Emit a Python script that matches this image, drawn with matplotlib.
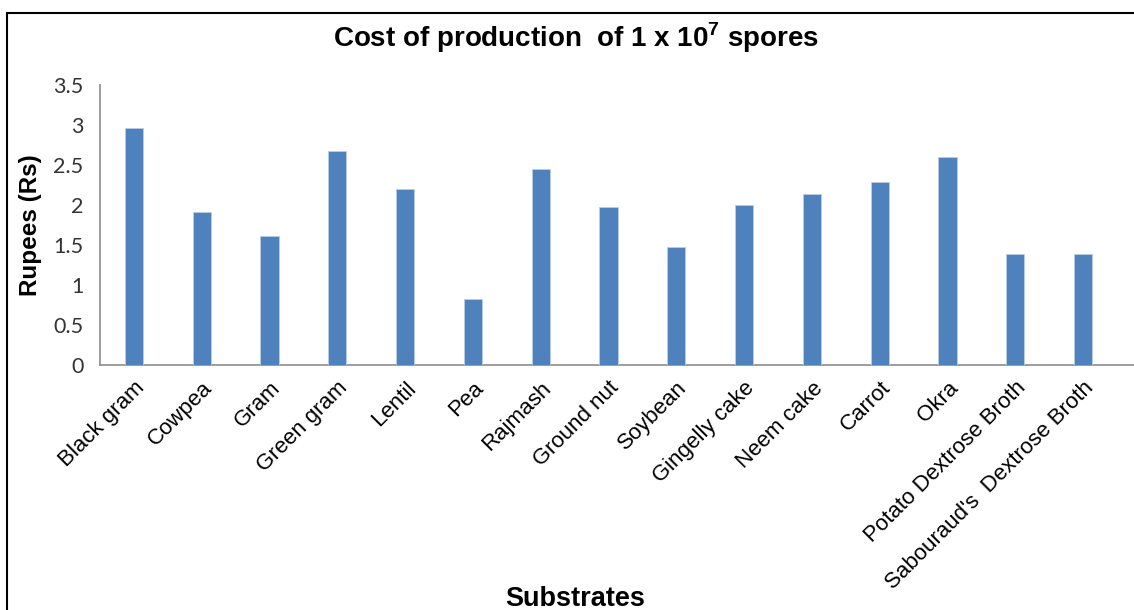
import matplotlib
matplotlib.use('Agg')
from matplotlib import pyplot as plt
from matplotlib.patches import Rectangle

plt.rcParams['mathtext.fontset'] = 'custom'
plt.rcParams['mathtext.bf'] = 'Liberation Sans:bold'
plt.rcParams['mathtext.rm'] = 'Liberation Sans'

substrates = ['Black gram', 'Cowpea', 'Gram', 'Green gram', 'Lentil', 'Pea', 'Rajmash',
              'Ground nut', 'Soybean', 'Gingelly cake', 'Neem cake', 'Carrot', 'Okra',
              'Potato Dextrose Broth', "Sabouraud's  Dextrose Broth"]
cost = [2.96, 1.91, 1.61, 2.67, 2.20, 0.82, 2.45,
        1.97, 1.48, 2.00, 2.14, 2.29, 2.60, 1.39, 1.39]
yticks = [0, 0.5, 1, 1.5, 2, 2.5, 3, 3.5]

fig = plt.figure(figsize=(11.34, 6.10), dpi=100)
ax = fig.add_axes([100/1134, 245/610, 1034/1134, 280/610])

x = list(range(len(substrates)))
ax.bar(x, cost, width=0.27, color='#4f81bd', edgecolor='#b9cde5', linewidth=0.6, zorder=3)

ax.set_xlim(-0.5, 14.75)
ax.set_ylim(0, 3.5)
ax.set_yticks(yticks)
ax.set_yticklabels([('%g' % v) for v in yticks], fontsize=15.5, family='Lato', color='#333333')
ax.set_xticks(x)
ax.set_xticklabels(substrates, rotation=45, ha='right', va='top', rotation_mode='anchor',
                   fontsize=16, family='Liberation Sans')
ax.tick_params(axis='both', length=0)
ax.tick_params(axis='y', pad=12)
ax.tick_params(axis='x', pad=9)

for s in ['top', 'right']:
    ax.spines[s].set_visible(False)
for s in ['left', 'bottom']:
    ax.spines[s].set_color('#8c8c8c')
    ax.spines[s].set_linewidth(1.2)

ax.set_ylabel('Rupees (Rs)', fontsize=17.5, fontweight='bold', family='Liberation Sans', labelpad=8)

fig.text(576/1134, 1 - 38/610, r'Cost of production  of 1 x 10$^{\mathbf{7}}$ spores', ha='center', va='center',
         fontsize=20, fontweight='bold', family='Liberation Sans')
fig.text(575/1134, 1 - 606/610, 'Substrates', ha='center', va='baseline',
         fontsize=19.5, fontweight='bold', family='Liberation Sans')

# outer frame (cropped at the right and bottom)
fig.patches.append(Rectangle((7/1134, -0.1), 1.2, 1 - 13/610 + 0.1, transform=fig.transFigure,
                             fill=False, edgecolor='black', linewidth=1.5))

fig.savefig('out.png', dpi=100)
